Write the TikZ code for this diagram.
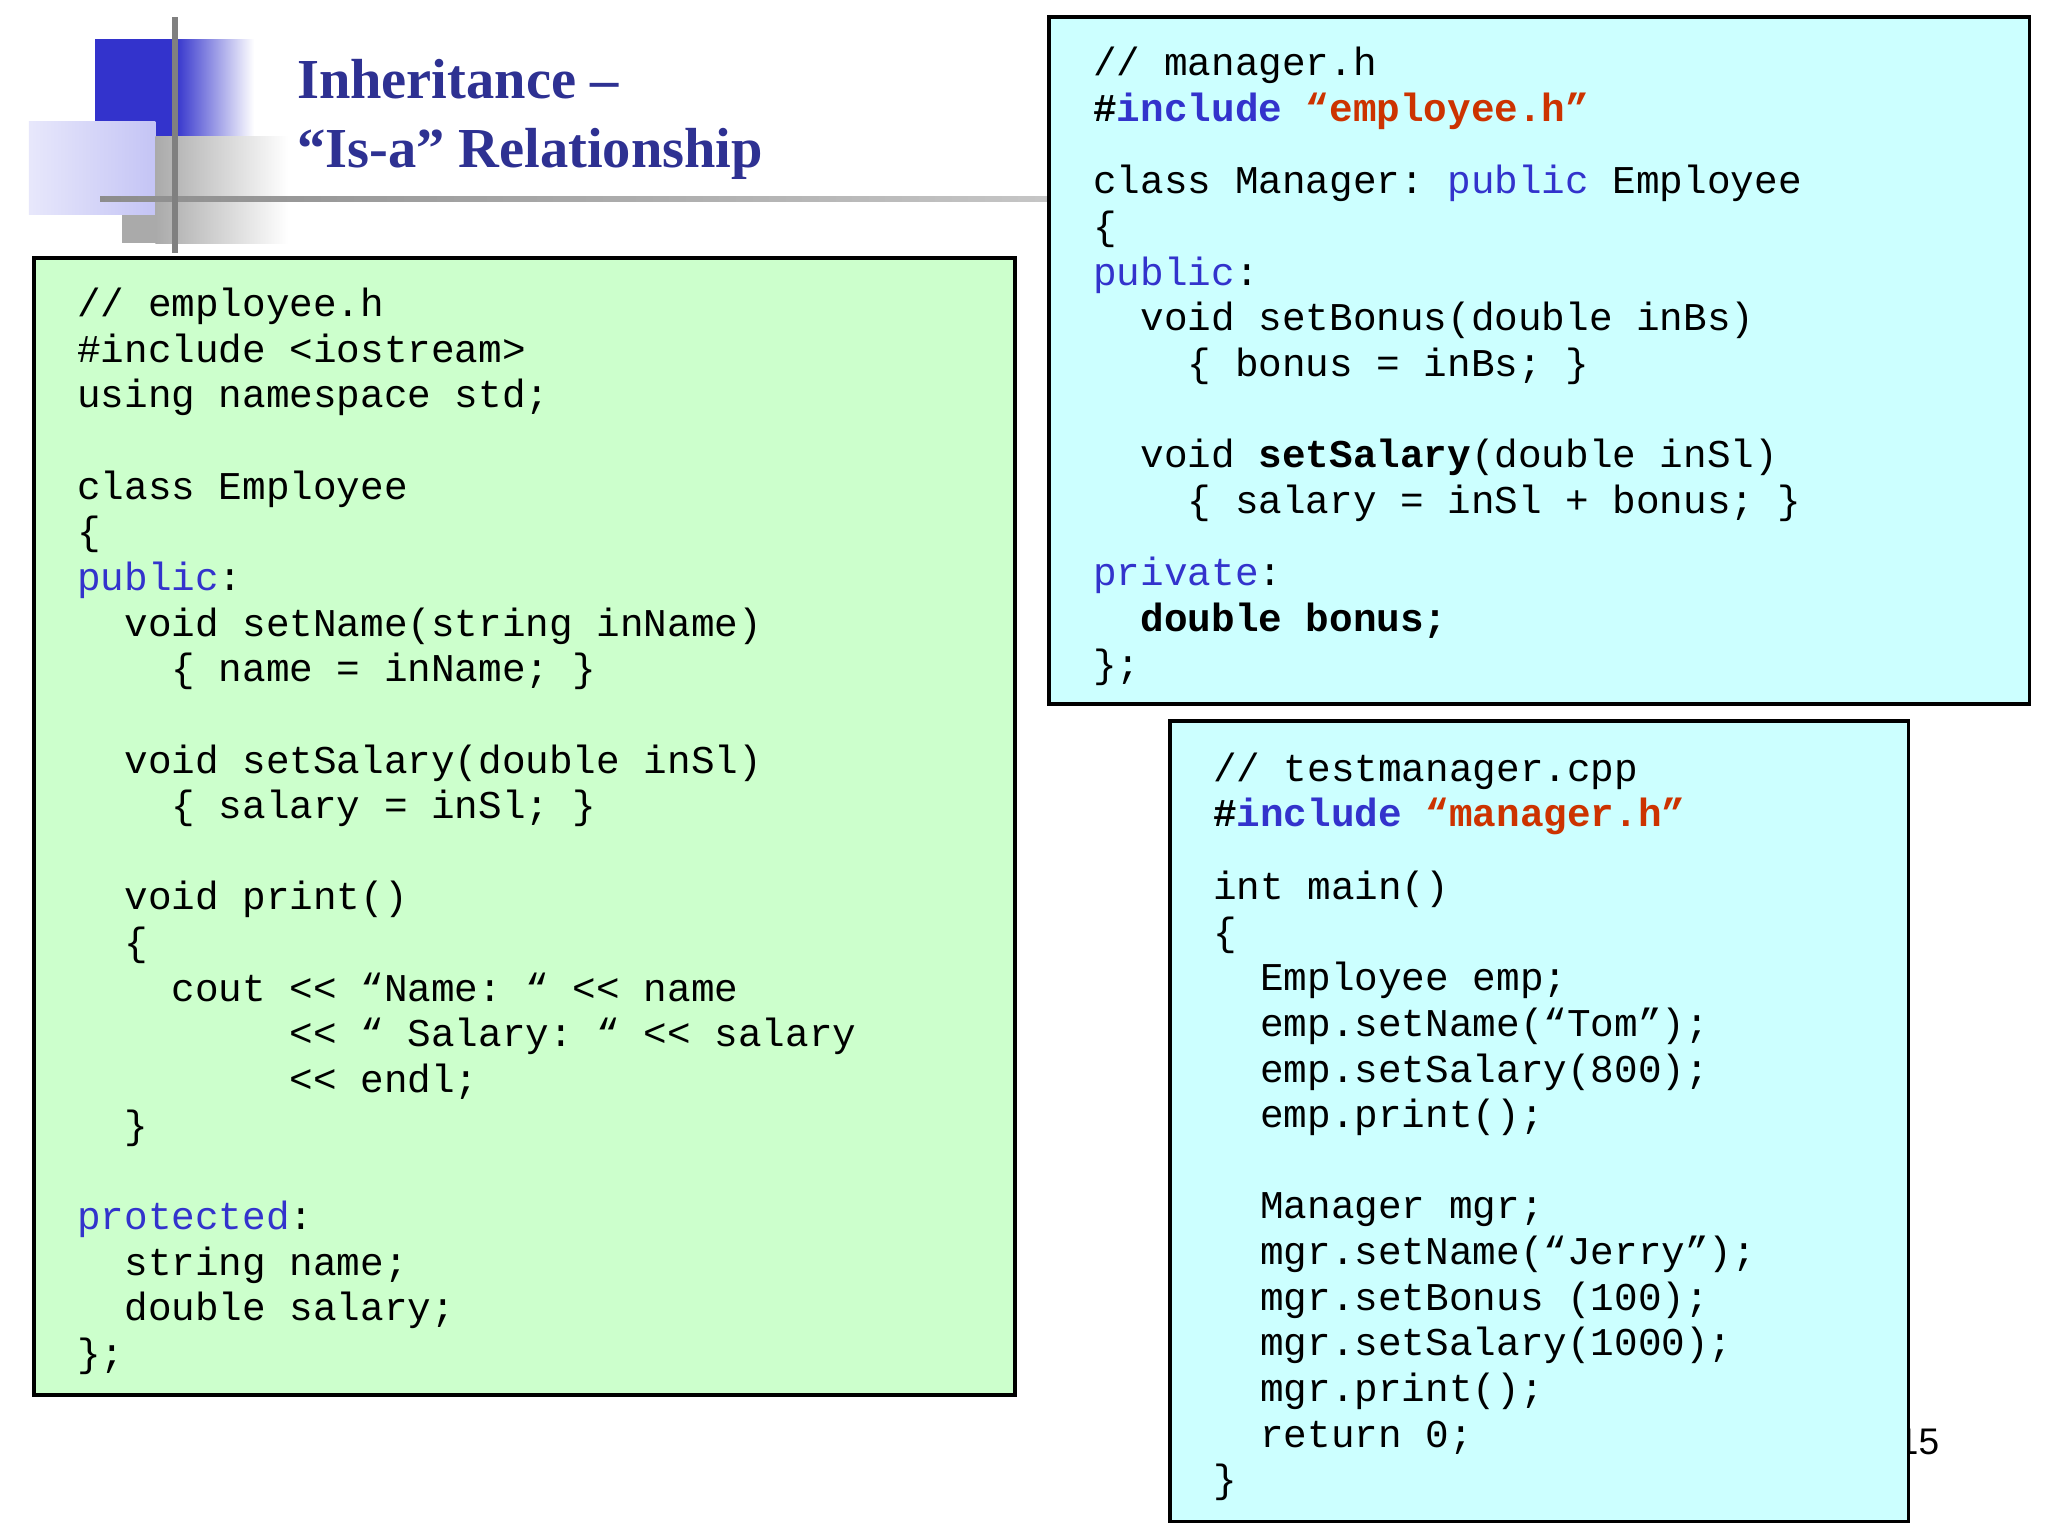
\documentclass[tikz,border=0pt]{standalone}
\usepackage{fontspec}
\setmainfont{Liberation Serif}
\setmonofont{Liberation Mono}
\setsansfont{Liberation Sans}
\definecolor{kw}{RGB}{51,51,204}
\definecolor{inc}{RGB}{204,51,0}
\definecolor{ttl}{RGB}{46,49,146}
\definecolor{grn}{RGB}{204,255,204}
\definecolor{cyn}{RGB}{204,255,255}
\definecolor{lav}{RGB}{196,196,245}
\definecolor{lgray}{RGB}{170,170,170}
\newcommand\kwd[1]{\textcolor{kw}{#1}}
\newcommand\incl[1]{\textbf{\#\textcolor{kw}{include}} \textbf{\textcolor{inc}{“#1”}}}
\newcommand\tp{\rule{0pt}{7pt}}
\begin{document}
\begin{tikzpicture}[x=0.01cm,y=-0.01cm,
  codebox/.style={draw=black,line width=0.8pt},
  code/.style={anchor=north west,align=left,inner sep=0pt,font=\ttfamily\fontsize{8.5pt}{9.86pt}\selectfont}]
\useasboundingbox (0,0) rectangle (1556,1167);
% logo
\fill[kw] (72,30) rectangle (134,105);
\shade[left color=kw,right color=white] (133,30) rectangle (193,105);
\shade[left color=white!60!lav,right color=lav] (22,92) rectangle (118,163);
\shade[left color=lgray,right color=white] (118,104) rectangle (219,185);
\fill[lgray] (93,163) rectangle (118,185);
\shade[left color=gray!90,right color=gray!45] (76,149) rectangle (800,153);
\fill[gray] (131,13) rectangle (135,192);
\node[anchor=base west,inner sep=0pt,text=ttl,font=\bfseries\fontsize{12.2pt}{14pt}\selectfont] (t1) at (225,75) {Inheritance –};
\node[anchor=base west,inner sep=0pt,text=ttl,font=\bfseries\fontsize{12.2pt}{14pt}\selectfont] (t2) at (225,127) {“Is-a” Relationship};
\node[anchor=base east,inner sep=0pt,font=\sffamily\fontsize{8pt}{9pt}\selectfont] (pg) at (1474,1105) {15};
% boxes
\filldraw[codebox,fill=grn] (26,196) rectangle (771,1060);
\filldraw[codebox,fill=cyn] (797,13) rectangle (1542,535);
\filldraw[codebox,fill=cyn] (889,548) rectangle (1450,1156);
\node[code] (emp) at (58,215.3) {\tp// employee.h\\
\#include <iostream>\\
using namespace std;\\
~\\
class Employee\\
\{\\
\kwd{public}:\\
~~void setName(string inName)\\
~~~~\{ name = inName; \}\\
~\\
~~void setSalary(double inSl)\\
~~~~\{ salary = inSl; \}\\
~\\
~~void print()\\
~~\{\\
~~~~cout << “Name: “ << name\\
~~~~~~~~~<< “ Salary: “ << salary\\
~~~~~~~~~<< endl;\\
~~\}\\
~\\
\kwd{protected}:\\
~~string name;\\
~~double salary;\\
\};};
\node[code] (mgr) at (830,32.3) {\tp// manager.h\\
\incl{employee.h}\\[0.204cm]
class Manager: \kwd{public} Employee\\
\{\\
\kwd{public}:\\
~~void setBonus(double inBs)\\
~~~~\{ bonus = inBs; \}\\
~\\
~~void \textbf{setSalary}(double inSl)\\
~~~~\{ salary = inSl + bonus; \}\\[0.204cm]
\kwd{private}:\\
~~\textbf{double bonus;}\\
\};};
\node[code] (tst) at (921,568.3) {\tp// testmanager.cpp\\
\incl{manager.h}\\[0.204cm]
int main()\\
\{\\
~~Employee emp;\\
~~emp.setName(“Tom”);\\
~~emp.setSalary(800);\\
~~emp.print();\\
~\\
~~Manager mgr;\\
~~mgr.setName(“Jerry”);\\
~~mgr.setBonus (100);\\
~~mgr.setSalary(1000);\\
~~mgr.print();\\
~~return 0;\\
\}};
\end{tikzpicture}
\end{document}
